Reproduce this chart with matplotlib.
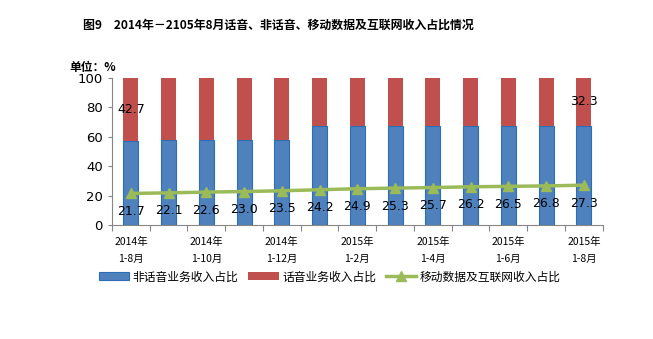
import matplotlib
matplotlib.use("Agg")
import matplotlib.pyplot as plt
import numpy as np

plt.rcParams['font.family'] = ['Noto Sans CJK SC', 'DejaVu Sans']

periods = ['2014年\n1-8月', '2014年\n1-9月', '2014年\n1-10月', '2014年\n1-11月', '2014年\n1-12月',
           '2015年\n1月', '2015年\n1-2月', '2015年\n1-3月', '2015年\n1-4月', '2015年\n1-5月',
           '2015年\n1-6月', '2015年\n1-7月', '2015年\n1-8月']
non_voice = [57.3, 57.6, 57.8, 57.9, 58.0, 67.3, 67.4, 67.3, 67.3, 67.3, 67.4, 67.5, 67.7]
voice = [42.7, 42.4, 42.2, 42.1, 42.0, 32.7, 32.6, 32.7, 32.7, 32.7, 32.6, 32.5, 32.3]
mobile_data = [21.7, 22.1, 22.6, 23.0, 23.5, 24.2, 24.9, 25.3, 25.7, 26.2, 26.5, 26.8, 27.3]

fig = plt.figure(figsize=(6.53, 3.39), dpi=100)
ax = fig.add_axes([0.1715, 0.335, 0.7515, 0.435])

x = np.arange(len(periods))
b1 = ax.bar(x, non_voice, width=0.4, color='#4F81BD', edgecolor='#2C6DB7', linewidth=0.8,
            label='非话音业务收入占比')
b2 = ax.bar(x, voice, width=0.4, bottom=non_voice, color='#C0504D', linewidth=0,
            label='话音业务收入占比')
ln, = ax.plot(x, mobile_data, color='#9BBB59', linewidth=2.5, marker='^', markersize=7,
              label='移动数据及互联网收入占比')

# value labels for the line, placed under each point
for xi, v in zip(x, mobile_data):
    ax.annotate(f'{v:.1f}', (xi, v), xytext=(0, -13), textcoords='offset points',
                ha='center', va='center', fontsize=9, family='DejaVu Sans')

# voice share labelled on first and last bars only
for i in (0, len(x) - 1):
    ax.text(x[i], non_voice[i] + voice[i] / 2, f'{voice[i]:.1f}', ha='center', va='center',
            fontsize=9, family='DejaVu Sans')

ax.set_xlim(-0.5, len(x) - 0.5)
ax.set_ylim(0, 100)
ax.set_yticks(np.arange(0, 101, 20))
ax.tick_params(axis='y', labelsize=9.5, length=3, color='#868686')
for lab in ax.get_yticklabels():
    lab.set_family('DejaVu Sans')

ax.set_xticks(np.arange(-0.5, len(x), 1))
ax.set_xticklabels([])
ax.tick_params(axis='x', which='major', length=4, color='#868686')
ax.set_xticks(x[::2], minor=True)
ax.set_xticklabels([periods[i] for i in x[::2]], minor=True, fontsize=7.5, linespacing=1.9)
ax.tick_params(axis='x', which='minor', length=0, pad=8)

for s in ('top', 'right'):
    ax.spines[s].set_visible(False)
for s in ('left', 'bottom'):
    ax.spines[s].set_color('#868686')

fig.text(0.426, 0.925, '图9　2014年－2105年8月话音、非话音、移动数据及互联网收入占比情况',
         ha='center', va='center', fontsize=8.6, fontweight='bold')
fig.text(0.107, 0.80, '单位：%', ha='left', va='center', fontsize=8.5, fontweight='bold')

fig.legend(handles=[b1, b2, ln], loc='center', bbox_to_anchor=(0.505, 0.183), ncol=3,
           frameon=False, fontsize=8.5, handlelength=2.6, handletextpad=0.3, columnspacing=0.8)

fig.savefig('out.png', dpi=100)
